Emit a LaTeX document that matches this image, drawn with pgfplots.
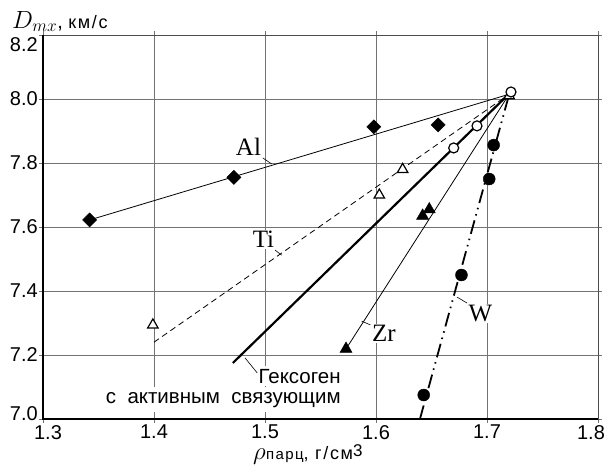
\documentclass[border=0pt]{standalone}
\usepackage{pgfplots}
\pgfplotsset{compat=1.18}
\usepackage{fontspec}
\setmainfont{Liberation Sans}
\newfontfamily\serifel{Liberation Serif}
\newfontfamily\wides[LetterSpace=9]{Liberation Sans}
\begin{document}
\begin{tikzpicture}
\begin{axis}[
  at={(0,0)}, anchor=south west,
  scale only axis, width=555pt, height=384pt,
  xmin=1.3, xmax=1.8, ymin=7.0, ymax=8.2,
  xtick={1.3,1.4,1.5,1.6,1.7,1.8},
  ytick={7.0,7.2,7.4,7.6,7.8,8.0,8.2},
  xticklabels={\hspace*{10pt}1.3,1.4,1.5,1.6,1.7,1.8\hspace*{14pt}},
  yticklabels={\raisebox{5pt}[\height][\depth]{7.0},7.2,7.4,7.6,7.8,8.0,\raisebox{-10pt}[\height][\depth]{8.2}},
  grid=major, major grid style={line width=0.7pt, black!55},
  tick align=outside, major tick length=4pt,
  tick style={line width=0.7pt, black!55},
  axis line style={line width=0.7pt, black!70},
  ticklabel style={font=\fontsize{20}{20}\selectfont},
  yticklabel style={inner xsep=1pt},
  xticklabel style={inner ysep=2pt},
  clip=false,
]
% Al
\addplot[black, line width=0.8pt] coordinates {(1.342,7.622) (1.72,8.015)};
\addplot[only marks, mark=square*, mark size=5pt, mark options={rotate=45, fill=black}] coordinates {(1.342,7.622) (1.472,7.755) (1.598,7.913) (1.656,7.919)};
% Ti
\addplot[black, line width=0.8pt, dash pattern=on 6pt off 4pt] coordinates {(1.40,7.24) (1.72,8.015)};
\addplot[only marks, mark=triangle*, mark size=6pt, mark options={solid, fill=white, draw=black, line width=1.2pt}] coordinates {(1.399,7.294) (1.603,7.70) (1.624,7.78) (1.72,8.01)};
% Zr
\addplot[black, line width=0.8pt] coordinates {(1.573,7.219) (1.72,8.015)};
\addplot[only marks, mark=triangle*, mark size=7pt, mark options={fill=black}] coordinates {(1.573,7.219) (1.642,7.635) (1.648,7.655)};
% W
\addplot[black, line width=1.8pt, dash pattern=on 14pt off 5pt on 1.5pt off 5pt on 1.5pt off 5pt] coordinates {(1.6396,7.0) (1.72,8.015)};
\addplot[only marks, mark=*, mark size=6pt, mark options={fill=black}] coordinates {(1.643,7.075) (1.677,7.45) (1.702,7.75) (1.706,7.856)};
% Hexogen
\addplot[black, line width=2.2pt] coordinates {(1.471,7.175) (1.7216,8.022)};
\addplot[only marks, mark=*, mark size=5pt, mark options={fill=white, draw=black, line width=1.2pt}] coordinates {(1.670,7.847) (1.691,7.916) (1.7216,8.022)};
% labels
\node[fill=white, inner sep=1pt, font=\serifel\fontsize{25}{25}\selectfont] at (axis cs:1.4851,7.85) {Al};
\draw[line width=0.6pt] (axis cs:1.498,7.816) -- (axis cs:1.506,7.797);
\node[fill=white, inner sep=1pt, font=\serifel\fontsize{25}{25}\selectfont] at (axis cs:1.4986,7.561) {Ti};
\draw[line width=0.6pt] (axis cs:1.509,7.528) -- (axis cs:1.515,7.512);
\node[fill=white, inner sep=1pt, font=\serifel\fontsize{25}{25}\selectfont] at (axis cs:1.6072,7.267) {Zr};
\draw[line width=0.6pt] (axis cs:1.587,7.306) -- (axis cs:1.595,7.294);
\node[fill=white, inner sep=1pt, font=\serifel\fontsize{25}{25}\selectfont] at (axis cs:1.694,7.330) {W};
\draw[line width=0.6pt] (axis cs:1.682,7.3625) -- (axis cs:1.673,7.381);
\node[fill=white, inner sep=3pt, anchor=base east, font=\fontsize{20.5}{20.5}\selectfont] at (axis cs:1.571,7.1125) {Гексоген};
\node[fill=white, inner xsep=3pt, inner ysep=5pt, anchor=base east, font=\fontsize{20.5}{20.5}\selectfont] at (axis cs:1.571,7.05) {с\ \ активным\ \ связующим};
\draw[line width=0.6pt] (axis cs:1.482,7.191) -- (axis cs:1.493,7.144);
\end{axis}
\draw[line width=1.6pt] (0,384pt) -- (0,0) -- (555pt,0);
\node[anchor=base west, inner sep=0pt] at (-31pt,391pt) {{\fontsize{24}{24}\selectfont$D_{mx}$}{\fontsize{20}{20}\selectfont, }{\wides\fontsize{18}{18}\selectfont км/с}};
\node[anchor=base west, inner sep=0pt] (rho) at (210pt,-40pt) {\fontsize{26}{26}\selectfont$\rho$};
\node[anchor=base west, inner sep=0pt] at (rho.base east) {{\wides\fontsize{15}{15}\selectfont парц}{\wides\fontsize{18}{18}\selectfont, г/см\raisebox{0.12em}{\fontsize{17}{17}\selectfont 3}}};
\pgfresetboundingbox
\path[use as bounding box] (-43pt,-48pt) rectangle (565pt,419pt);
\end{tikzpicture}
\end{document}
